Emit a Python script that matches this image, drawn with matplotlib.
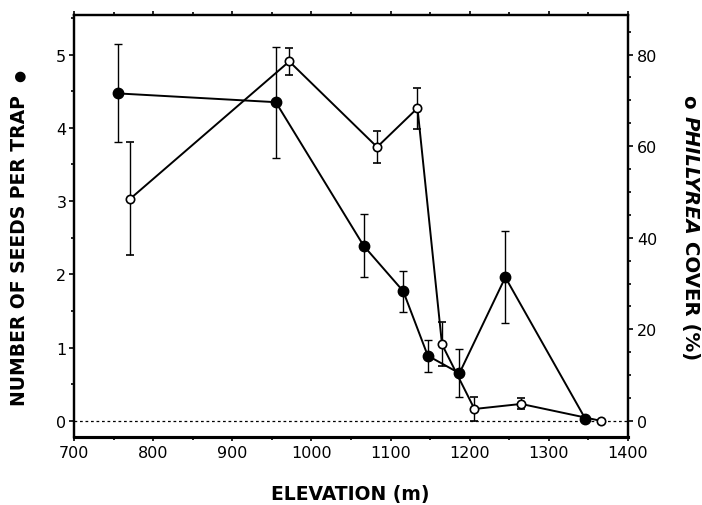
import matplotlib
matplotlib.use("Agg")
import matplotlib.pyplot as plt
from matplotlib.ticker import MultipleLocator

plt.rcParams['font.family'] = ['DejaVu Sans']

# ---- data ----
seed_elev = [755, 955, 1066, 1116, 1147, 1187, 1245, 1346]
seeds = [4.47, 4.35, 2.39, 1.77, 0.89, 0.65, 1.96, 0.03]
seeds_err = [0.67, 0.76, 0.43, 0.28, 0.22, 0.33, 0.63, 0.0]

cover_elev = [771, 972, 1083, 1134, 1165, 1206, 1265, 1366]
cover = [48.5, 78.5, 59.8, 68.3, 16.7, 2.6, 3.7, 0.0]
cover_err = [12.3, 3.0, 3.5, 4.5, 4.8, 2.6, 1.2, 0.0]

x_ticks = [700, 800, 900, 1000, 1100, 1200, 1300, 1400]
left_ticks = [0, 1, 2, 3, 4, 5]
right_ticks = [0, 20, 40, 60, 80]

W, H = 702, 506
fig = plt.figure(figsize=(W / 100, H / 100), dpi=100)
ax = fig.add_axes([74 / W, 1 - 438 / H, (628 - 74) / W, (438 - 16) / H])
ax2 = ax.twinx()

ax.set_xlim(700, 1400)
ax.set_ylim(-0.22, 5.54)
ax2.set_ylim(-0.22 * 16, 5.54 * 16)

# zero reference line
ax.axhline(0, color='black', lw=0.9, ls=(0, (2.2, 2.2)), zorder=1)

# seeds (filled)
ax.errorbar(seed_elev, seeds, yerr=seeds_err, fmt='-o', color='black',
            lw=1.4, ms=7.5, mfc='black', mec='black', elinewidth=1.0,
            capsize=2.8, capthick=1.0, zorder=3)

# cover (open)
ax2.errorbar(cover_elev, cover, yerr=cover_err, fmt='-o', color='black',
             lw=1.4, ms=6, mfc='white', mec='black', mew=1.2, elinewidth=1.0,
             capsize=2.8, capthick=1.0, zorder=3)

# ticks
ax.set_xticks(x_ticks)
ax.xaxis.set_minor_locator(MultipleLocator(50))
ax.set_yticks(left_ticks)
ax.yaxis.set_minor_locator(MultipleLocator(0.5))
ax2.set_yticks(right_ticks)
ax2.yaxis.set_minor_locator(MultipleLocator(5))

ax.tick_params(axis='x', which='both', direction='out', top=True, bottom=True,
               labeltop=False, width=1.2)
ax.tick_params(axis='x', which='major', length=3, labelsize=11.5, pad=3)
ax.tick_params(axis='x', which='minor', length=2.5)
ax.tick_params(axis='y', which='both', direction='out', width=1.2)
ax.tick_params(axis='y', which='major', length=3.5, labelsize=11.5, pad=2)
ax.tick_params(axis='y', which='minor', length=2.5)
ax2.tick_params(axis='y', which='both', direction='out', width=1.2)
ax2.tick_params(axis='y', which='major', length=3.5, labelsize=11.5, pad=3)
ax2.tick_params(axis='y', which='minor', length=2.5)

for a in (ax, ax2):
    for s in a.spines.values():
        s.set_linewidth(1.6)
ax.spines['bottom'].set_linewidth(2.2)
ax2.spines['bottom'].set_linewidth(2.2)

# x label
fig.text(350 / W, 1 - 495 / H, 'ELEVATION (m)', ha='center', va='center',
         fontsize=13.5, fontweight='bold')

fig.canvas.draw()
renderer = fig.canvas.get_renderer()

# left label, reading bottom to top
ybot = 406
for txt, size in [('NUMBER OF SEEDS PER TRAP  ', 13.5), ('\u25CF', 10)]:
    t = fig.text(19.5 / W, 1 - ybot / H, txt, rotation=90, ha='center',
                 va='bottom', fontsize=size, fontweight='bold')
    bb = t.get_window_extent(renderer=renderer)
    ybot -= bb.height

# right label with mixed styles, reading top to bottom
pieces = [('o ', 'normal'), ('PHILLYREA', 'italic'), (' COVER (%)', 'normal')]
ytop = 95
for txt, style in pieces:
    t = fig.text(690 / W, 1 - ytop / H, txt, rotation=-90, ha='center', va='top',
                 fontsize=14.2, fontweight='bold', fontstyle=style)
    bb = t.get_window_extent(renderer=renderer)
    ytop += bb.height

fig.savefig('out.png', dpi=100)
